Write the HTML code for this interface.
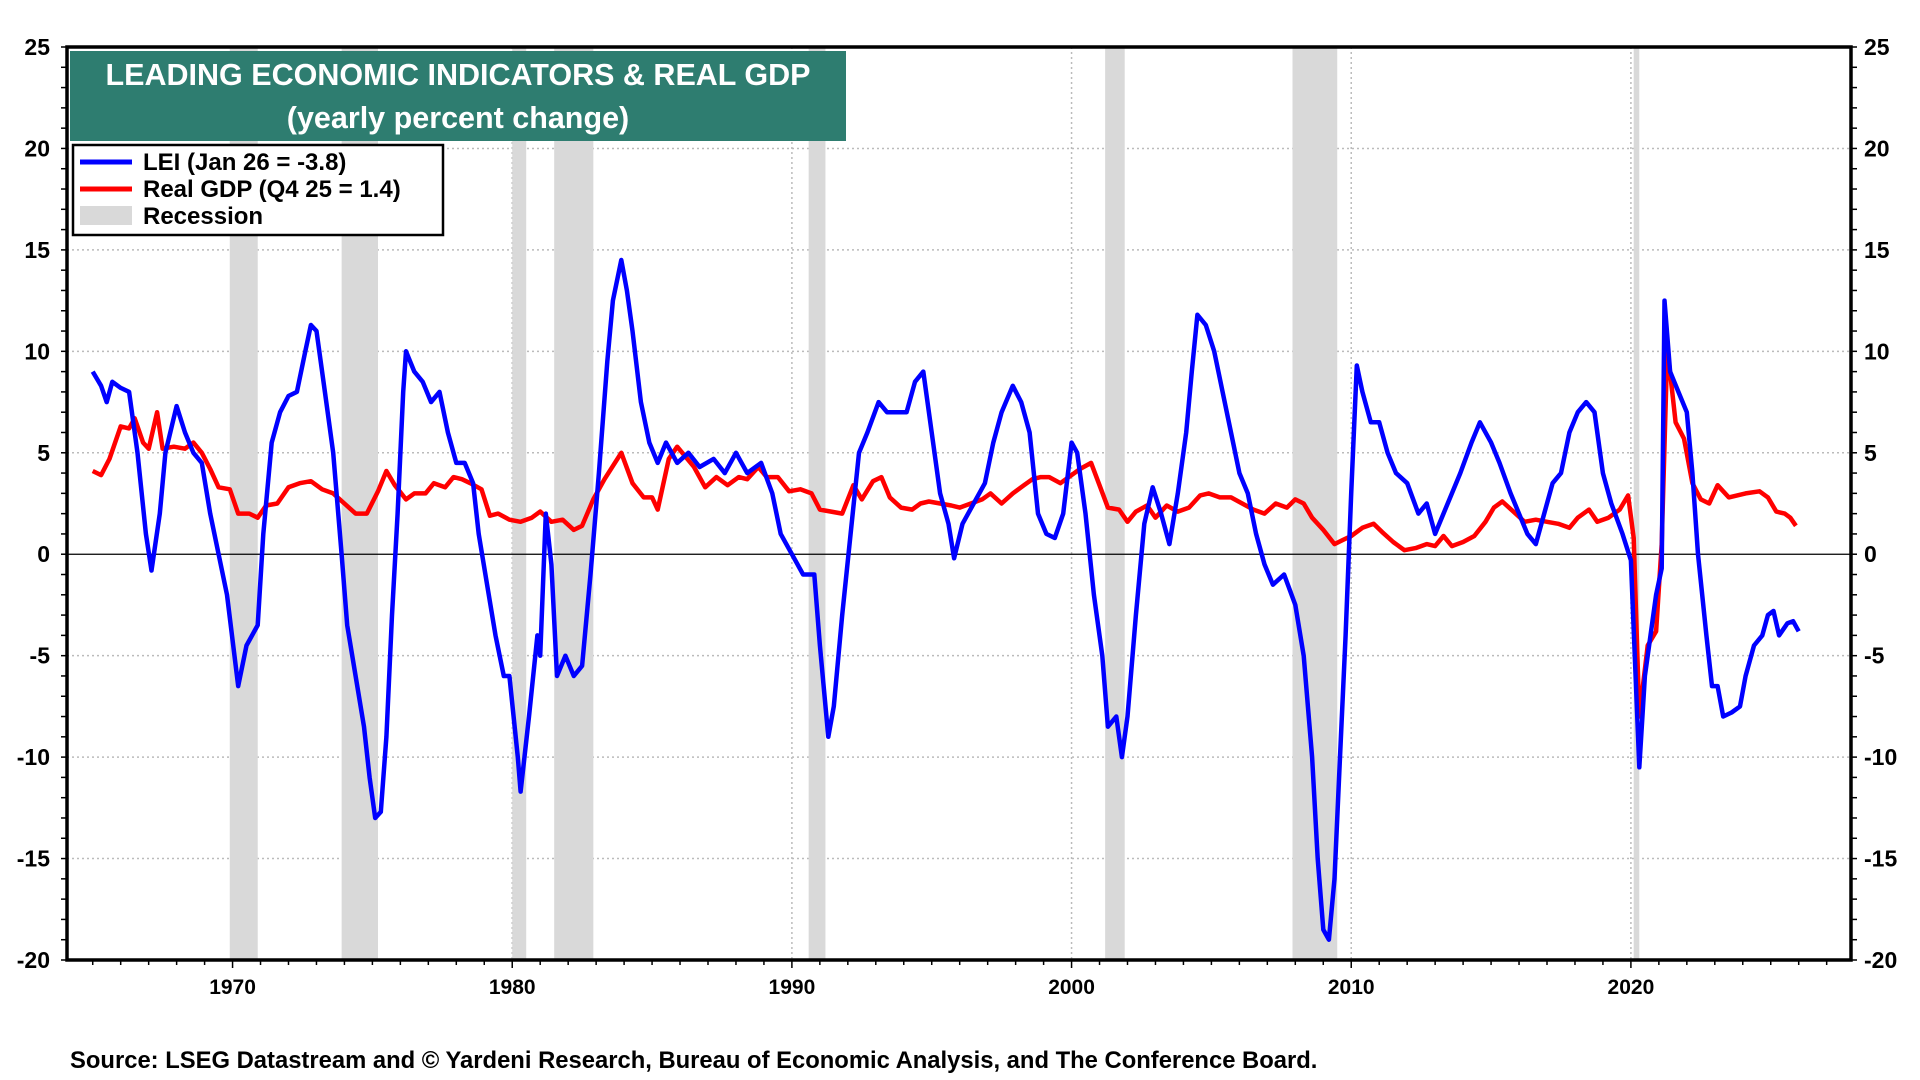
<!DOCTYPE html>
<html><head><meta charset="utf-8"><style>
html,body{margin:0;padding:0;background:#fff;}
svg{display:block;font-family:"Liberation Sans",Arial,sans-serif;font-weight:bold;}
</style></head><body>
<svg id="chart" width="1920" height="1080" viewBox="0 0 1920 1080" xmlns="http://www.w3.org/2000/svg">
<g id="grid"></g>
<g id="rec"></g>
<g id="series"></g>
<rect x="67" y="47" width="1784" height="913" fill="none" stroke="#000" stroke-width="3.5"/>
<g id="axes"></g>
<g>
<rect x="70" y="51" width="776" height="90" fill="#2e7d70"/>
<text x="458" y="85" text-anchor="middle" fill="#fff" font-size="30.5">LEADING ECONOMIC INDICATORS &amp; REAL GDP</text>
<text x="458" y="128" text-anchor="middle" fill="#fff" font-size="30.5">(yearly percent change)</text>
</g>
<g>
<rect x="73" y="145" width="370" height="90" fill="#fff" stroke="#000" stroke-width="2.5"/>
<g><line x1="80" y1="162" x2="132" y2="162" stroke="#0000ff" stroke-width="5"/><text x="143" y="170" font-size="24">LEI (Jan 26 = -3.8)</text></g>
<g><line x1="80" y1="189" x2="132" y2="189" stroke="#ff0000" stroke-width="5"/><text x="143" y="197" font-size="24">Real GDP (Q4 25 = 1.4)</text></g>
<g><rect x="80" y="206" width="52" height="19" fill="#d9d9d9"/><text x="143" y="224" font-size="24">Recession</text></g>
</g>
<text x="70" y="1068" font-size="23.8">Source: LSEG Datastream and © Yardeni Research, Bureau of Economic Analysis, and The Conference Board.</text>
</svg>
<script>
const yTicks=[25,20,15,10,5,0,-5,-10,-15,-20];
const xTicks=[1970,1980,1990,2000,2010,2020];
const recStart=[1969.9,1973.9,1980.0,1981.5,1990.6,2001.2,2007.9,2020.1];
const recEnd=[1970.9,1975.2,1980.5,1982.9,1991.2,2001.9,2009.5,2020.3];
const leiYears=[1965.0,1965.3,1965.5,1965.7,1966.0,1966.3,1966.6,1966.9,1967.1,1967.4,1967.6,1968.0,1968.3,1968.6,1968.9,1969.2,1969.5,1969.8,1970.2,1970.5,1970.9,1971.1,1971.4,1971.7,1972.0,1972.3,1972.6,1972.8,1973.0,1973.3,1973.6,1973.9,1974.1,1974.4,1974.7,1974.9,1975.1,1975.3,1975.5,1975.7,1975.9,1976.1,1976.2,1976.5,1976.8,1977.1,1977.4,1977.7,1978.0,1978.3,1978.6,1978.8,1979.1,1979.4,1979.7,1979.9,1980.2,1980.3,1980.6,1980.9,1981.0,1981.2,1981.4,1981.6,1981.9,1982.2,1982.5,1982.8,1983.1,1983.4,1983.6,1983.9,1984.1,1984.3,1984.6,1984.9,1985.2,1985.5,1985.9,1986.3,1986.7,1987.2,1987.6,1988.0,1988.4,1988.9,1989.3,1989.6,1990.0,1990.4,1990.8,1991.0,1991.3,1991.5,1991.8,1992.1,1992.4,1992.7,1993.1,1993.4,1993.7,1994.1,1994.4,1994.7,1995.0,1995.3,1995.6,1995.8,1996.1,1996.5,1996.9,1997.2,1997.5,1997.9,1998.2,1998.5,1998.8,1999.1,1999.4,1999.7,2000.0,2000.2,2000.5,2000.8,2001.1,2001.3,2001.6,2001.8,2002.0,2002.3,2002.6,2002.9,2003.2,2003.5,2003.8,2004.1,2004.3,2004.5,2004.8,2005.1,2005.4,2005.7,2006.0,2006.3,2006.6,2006.9,2007.2,2007.6,2008.0,2008.3,2008.6,2008.8,2009.0,2009.2,2009.4,2009.6,2009.8,2010.0,2010.2,2010.4,2010.7,2011.0,2011.3,2011.6,2012.0,2012.4,2012.7,2013.0,2013.3,2013.6,2013.9,2014.3,2014.6,2015.0,2015.3,2015.7,2016.0,2016.3,2016.6,2016.9,2017.2,2017.5,2017.8,2018.1,2018.4,2018.7,2019.0,2019.3,2019.7,2020.0,2020.3,2020.5,2020.7,2020.9,2021.1,2021.2,2021.4,2021.7,2022.0,2022.2,2022.4,2022.7,2022.9,2023.1,2023.3,2023.6,2023.9,2024.1,2024.4,2024.7,2024.9,2025.1,2025.3,2025.6,2025.8,2026.0];
const leiValues=[9,8.3,7.5,8.5,8.2,8,5,1,-0.8,2,5,7.3,6,5,4.5,2,0,-2,-6.5,-4.5,-3.5,1,5.5,7,7.8,8,10,11.3,11,8,5,0,-3.5,-6,-8.5,-11,-13,-12.7,-9,-3,2,8,10,9,8.5,7.5,8,6,4.5,4.5,3.5,1,-1.5,-4,-6,-6,-10,-11.7,-8,-4,-5,2,-0.5,-6,-5,-6,-5.5,-1,4,9.5,12.5,14.5,13,11,7.5,5.5,4.5,5.5,4.5,5,4.3,4.7,4,5,4,4.5,3,1,0,-1,-1,-4.5,-9,-7.5,-3,1,5,6,7.5,7,7,7,8.5,9,6,3,1.5,-0.2,1.5,2.5,3.5,5.5,7,8.3,7.5,6,2,1,0.8,2,5.5,5,2,-2,-5,-8.5,-8,-10,-8,-3,1.5,3.3,2,0.5,3,6,9,11.8,11.3,10,8,6,4,3,1,-0.5,-1.5,-1,-2.5,-5,-10,-15,-18.5,-19,-16,-10,-4,3,9.3,8,6.5,6.5,5,4,3.5,2,2.5,1,2,3,4,5.5,6.5,5.5,4.5,3,2,1,0.5,2,3.5,4,6,7,7.5,7,4,2.5,1,-0.3,-10.5,-6,-4,-2,-0.7,12.5,9,8,7,4,0,-4,-6.5,-6.5,-8,-7.8,-7.5,-6,-4.5,-4,-3,-2.8,-4,-3.4,-3.3,-3.8];
const gdpYears=[1965.0,1965.3,1965.6,1966.0,1966.3,1966.5,1966.8,1967.0,1967.3,1967.5,1967.9,1968.3,1968.6,1968.9,1969.2,1969.5,1969.9,1970.2,1970.6,1970.9,1971.2,1971.6,1972.0,1972.4,1972.8,1973.2,1973.6,1974.0,1974.4,1974.8,1975.2,1975.5,1975.8,1976.2,1976.5,1976.9,1977.2,1977.6,1977.9,1978.2,1978.5,1978.9,1979.2,1979.5,1979.9,1980.3,1980.7,1981.0,1981.4,1981.8,1982.2,1982.5,1982.9,1983.3,1983.9,1984.3,1984.7,1985.0,1985.2,1985.6,1985.9,1986.2,1986.5,1986.9,1987.3,1987.7,1988.1,1988.4,1988.8,1989.1,1989.5,1989.9,1990.3,1990.7,1991.0,1991.4,1991.8,1992.2,1992.5,1992.9,1993.2,1993.5,1993.9,1994.3,1994.6,1994.9,1995.3,1995.7,1996.0,1996.4,1996.8,1997.1,1997.5,1997.9,1998.3,1998.6,1998.9,1999.2,1999.6,2000.0,2000.3,2000.7,2001.0,2001.3,2001.7,2002.0,2002.3,2002.7,2003.0,2003.4,2003.8,2004.2,2004.6,2004.9,2005.3,2005.7,2006.1,2006.5,2006.9,2007.3,2007.7,2008.0,2008.3,2008.6,2009.0,2009.4,2009.7,2010.0,2010.4,2010.8,2011.1,2011.5,2011.9,2012.3,2012.7,2013.0,2013.3,2013.6,2014.0,2014.4,2014.8,2015.1,2015.4,2015.8,2016.2,2016.6,2017.0,2017.4,2017.8,2018.1,2018.5,2018.8,2019.2,2019.6,2019.9,2020.1,2020.3,2020.6,2020.9,2021.1,2021.3,2021.6,2021.9,2022.2,2022.5,2022.8,2023.1,2023.5,2023.8,2024.1,2024.6,2024.9,2025.2,2025.5,2025.7,2025.9];
const gdpValues=[4.1,3.9,4.7,6.3,6.2,6.7,5.5,5.2,7.0,5.2,5.3,5.2,5.5,5.0,4.2,3.3,3.2,2.0,2.0,1.8,2.4,2.5,3.3,3.5,3.6,3.2,3.0,2.5,2.0,2.0,3.1,4.1,3.4,2.7,3.0,3.0,3.5,3.3,3.8,3.7,3.5,3.2,1.9,2.0,1.7,1.6,1.8,2.1,1.6,1.7,1.2,1.4,2.7,3.7,5.0,3.5,2.8,2.8,2.2,4.7,5.3,4.8,4.3,3.3,3.8,3.4,3.8,3.7,4.3,3.8,3.8,3.1,3.2,3.0,2.2,2.1,2.0,3.4,2.7,3.6,3.8,2.8,2.3,2.2,2.5,2.6,2.5,2.4,2.3,2.5,2.7,3.0,2.5,3.0,3.4,3.7,3.8,3.8,3.5,3.9,4.2,4.5,3.4,2.3,2.2,1.6,2.1,2.4,1.8,2.4,2.1,2.3,2.9,3.0,2.8,2.8,2.5,2.2,2.0,2.5,2.3,2.7,2.5,1.8,1.2,0.5,0.7,0.9,1.3,1.5,1.1,0.6,0.2,0.3,0.5,0.4,0.9,0.4,0.6,0.9,1.6,2.3,2.6,2.1,1.6,1.7,1.6,1.5,1.3,1.8,2.2,1.6,1.8,2.2,2.9,0.8,-8.0,-4.5,-3.8,0.5,10.2,6.5,5.7,3.5,2.7,2.5,3.4,2.8,2.9,3.0,3.1,2.8,2.1,2.0,1.8,1.4];

const L=67,R=1851,T=47,B=960,X0=1964.08,X1=2027.87,Y0=-20,Y1=25;
function xs(v){return L+(v-X0)/(X1-X0)*(R-L);}
function ys(v){return B-(v-Y0)/(Y1-Y0)*(B-T);}
const NS='http://www.w3.org/2000/svg';
function mk(tag,attrs,parent){const e=document.createElementNS(NS,tag);for(const k in attrs)e.setAttribute(k,attrs[k]);parent.appendChild(e);return e;}
const grid=document.getElementById('grid'),rec=document.getElementById('rec'),ser=document.getElementById('series'),axes=document.getElementById('axes');
yTicks.forEach(v=>{
  if(v!==25&&v!==-20&&v!==0){const g=mk('line',{x1:L,x2:R,y1:ys(v),y2:ys(v),stroke:'#bbb','stroke-width':1.5,'stroke-dasharray':'2,3'},grid);
  
  }
  const a=mk('text',{x:50,y:ys(v)+8,'text-anchor':'end','font-size':23},axes);a.textContent=v;
  
  
  const b=mk('text',{x:1864,y:ys(v)+8,'text-anchor':'start','font-size':23},axes);b.textContent=v;
  
  
});
for(let v=-20;v<=25;v++){
  mk('line',{x1:L-6,x2:L,y1:ys(v),y2:ys(v),stroke:'#000','stroke-width':1.5},axes);
  mk('line',{x1:R,x2:R+6,y1:ys(v),y2:ys(v),stroke:'#000','stroke-width':1.5},axes);
}
xTicks.forEach(v=>{
  const g=mk('line',{x1:xs(v),x2:xs(v),y1:T,y2:B,stroke:'#bbb','stroke-width':1.5,'stroke-dasharray':'2,3'},grid);
  
  
  const t=mk('text',{x:xs(v),y:994,'text-anchor':'middle','font-size':21},axes);t.textContent=v;
  
  
});
for(let y=1965;y<=2027;y++){mk('line',{x1:xs(y),x2:xs(y),y1:B,y2:B+(y%10===0?8:5),stroke:'#000','stroke-width':1.5},axes);}
recStart.forEach((s,i)=>{
  const r=mk('rect',{x:xs(s),y:T,width:xs(recEnd[i])-xs(s),height:B-T,fill:'#d9d9d9'},rec);
  
  
});
const z=mk('line',{x1:L,x2:R,y1:ys(0),y2:ys(0),stroke:'#000','stroke-width':1.2},ser);


function path(xsArr,vals){return xsArr.map((x,i)=>(i?'L':'M')+xs(x).toFixed(1)+','+ys(vals[i]).toFixed(1)).join('');}
const g1=mk('path',{d:path(gdpYears,gdpValues),fill:'none',stroke:'#ff0000','stroke-width':4.5,'stroke-linejoin':'round'},ser);


const l1=mk('path',{d:path(leiYears,leiValues),fill:'none',stroke:'#0000ff','stroke-width':4.5,'stroke-linejoin':'round'},ser);


</script>
</body></html>
